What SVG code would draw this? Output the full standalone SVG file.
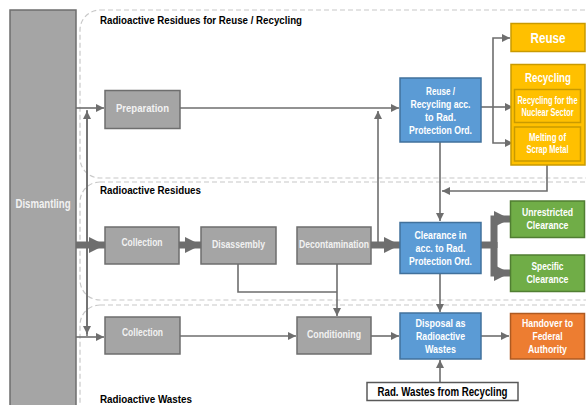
<svg xmlns="http://www.w3.org/2000/svg" width="586" height="405" viewBox="0 0 586 405">
<style>
text{font-family:"Liberation Sans",Arial,sans-serif;font-weight:bold;text-anchor:middle}
.g{fill:#a5a5a5;stroke:#6e6e6e;stroke-width:1.5}
.b{fill:#5b9bd5;stroke:#41719c;stroke-width:1.5}
.y{fill:#ffc000;stroke:#c99a00;stroke-width:1.5}
.gr{fill:#70ad47;stroke:#507e32;stroke-width:1.5}
.o{fill:#ed7d31;stroke:#ae5a21;stroke-width:1.5}
.w{fill:#fff;stroke:#595959;stroke-width:1.5}
.t{fill:#f2f2f2;font-size:11.5px}
.tw{fill:#fff;font-size:11.5px}
.ts{fill:#fff;font-size:10px}
.h{fill:#000;font-size:11.5px;text-anchor:start}
.reg{fill:none;stroke:#c8c8c8;stroke-width:1.2;stroke-dasharray:5 3}
.c{fill:none;stroke:#6e6e6e;stroke-width:1.6}
.k{fill:none;stroke:#6e6e6e;stroke-width:7}
</style>
<defs>
<marker id="a" viewBox="0 0 10 10" refX="10" refY="5" markerWidth="5" markerHeight="5" orient="auto" markerUnits="strokeWidth"><path d="M0,0L10,5L0,10z" fill="#6e6e6e"/></marker>
<marker id="ak" viewBox="0 0 10 10" refX="10" refY="5" markerWidth="2.3" markerHeight="2.3" orient="auto" markerUnits="strokeWidth"><path d="M0,0L10,5L0,10z" fill="#6e6e6e"/></marker>
</defs>
<rect x="0" y="0" width="586" height="405" fill="#fff"/>
<g id="regions">
<rect class="reg" x="80" y="10" width="530" height="168" rx="20"/>
<rect class="reg" x="80" y="182" width="530" height="118" rx="20"/>
<rect class="reg" x="80" y="305" width="530" height="130" rx="20"/>
<text class="h" x="100" y="24" textLength="202" lengthAdjust="spacingAndGlyphs">Radioactive Residues for Reuse / Recycling</text>
<text class="h" x="100" y="194" textLength="101" lengthAdjust="spacingAndGlyphs">Radioactive Residues</text>
<text class="h" x="100" y="403" textLength="92" lengthAdjust="spacingAndGlyphs">Radioactive Wastes</text>
</g>
<g id="connectors">
<path class="c" d="M76,108H104" marker-end="url(#a)"/>
<path class="c" d="M180,108H399" marker-end="url(#a)"/>
<path class="c" d="M87,336V111" marker-end="url(#a)"/>
<path class="c" d="M87,110V334" marker-end="url(#a)"/>
<path class="c" d="M76,337H104" marker-end="url(#a)"/>
<path class="k" d="M76,245H105" marker-end="url(#ak)"/>
<path class="k" d="M179,245H201" marker-end="url(#ak)"/>
<path class="k" d="M371,245H400" marker-end="url(#ak)"/>
<path class="c" d="M378,245V111" marker-end="url(#a)"/>
<path class="c" d="M440,142V221" marker-end="url(#a)"/>
<path class="c" d="M547,161V191H442" marker-end="url(#a)"/>
<path class="c" d="M481,107H513" marker-end="url(#a)"/>
<path class="c" d="M493,107V38H510" marker-end="url(#a)"/>
<path class="c" d="M493,107V143H513" marker-end="url(#a)"/>
<path class="k" d="M481,245H494"/>
<path class="k" d="M494,248V219H510" marker-end="url(#ak)"/>
<path class="k" d="M494,242V273H510" marker-end="url(#ak)"/>
<path class="c" d="M440,273V312" marker-end="url(#a)"/>
<path class="c" d="M238,264V292H337"/>
<path class="c" d="M337,264V316" marker-end="url(#a)"/>
<path class="c" d="M180,336H296" marker-end="url(#a)"/>
<path class="c" d="M371,336H399" marker-end="url(#a)"/>
<path class="c" d="M481,336H509" marker-end="url(#a)"/>
<path class="c" d="M440,382V360" marker-end="url(#a)"/>
</g>
<g id="dismantling"><rect class="g" x="10" y="10" width="66" height="400"/><text class="t" x="43" y="208" style="font-size:12px" textLength="55" lengthAdjust="spacingAndGlyphs">Dismantling</text></g>
<g id="preparation"><rect class="g" x="105" y="90.5" width="75" height="38"/><text class="t" x="142.5" y="112" textLength="53" lengthAdjust="spacingAndGlyphs">Preparation</text></g>
<g id="collection1"><rect class="g" x="105" y="227" width="74" height="37"/><text class="t" x="142" y="246" textLength="41" lengthAdjust="spacingAndGlyphs">Collection</text></g>
<g id="disassembly"><rect class="g" x="201" y="227" width="75" height="37"/><text class="t" x="238.5" y="248" textLength="53" lengthAdjust="spacingAndGlyphs">Disassembly</text></g>
<g id="decontamination"><rect class="g" x="297" y="227" width="74" height="37"/><text class="t" x="334" y="248" textLength="70" lengthAdjust="spacingAndGlyphs">Decontamination</text></g>
<g id="collection2"><rect class="g" x="105" y="317" width="75" height="37"/><text class="t" x="142.5" y="336" textLength="41" lengthAdjust="spacingAndGlyphs">Collection</text></g>
<g id="conditioning"><rect class="g" x="297" y="317" width="74" height="37"/><text class="t" x="334" y="338" textLength="54" lengthAdjust="spacingAndGlyphs">Conditioning</text></g>
<g id="reuse-recycling"><rect class="b" x="400" y="78" width="81" height="64"/>
<text class="tw" x="440.5" y="95" textLength="29" lengthAdjust="spacingAndGlyphs">Reuse /</text>
<text class="tw" x="440.5" y="108" textLength="60" lengthAdjust="spacingAndGlyphs">Recycling acc.</text>
<text class="tw" x="440.5" y="121" textLength="31" lengthAdjust="spacingAndGlyphs">to Rad.</text>
<text class="tw" x="440.5" y="134" textLength="63" lengthAdjust="spacingAndGlyphs">Protection Ord.</text></g>
<g id="clearance"><rect class="b" x="400" y="222.5" width="81" height="51"/>
<text class="tw" x="440.5" y="239" textLength="52" lengthAdjust="spacingAndGlyphs">Clearance in</text>
<text class="tw" x="440.5" y="252" textLength="50" lengthAdjust="spacingAndGlyphs">acc. to Rad.</text>
<text class="tw" x="440.5" y="265" textLength="63" lengthAdjust="spacingAndGlyphs">Protection Ord.</text></g>
<g id="disposal"><rect class="b" x="400" y="313" width="81" height="46"/>
<text class="tw" x="440.5" y="327" textLength="50" lengthAdjust="spacingAndGlyphs">Disposal as</text>
<text class="tw" x="440.5" y="340" textLength="49" lengthAdjust="spacingAndGlyphs">Radioactive</text>
<text class="tw" x="440.5" y="353" textLength="31" lengthAdjust="spacingAndGlyphs">Wastes</text></g>
<g id="reuse"><rect class="y" x="511" y="23.5" width="74" height="28"/><text class="tw" x="548" y="43" style="font-size:14px" textLength="35" lengthAdjust="spacingAndGlyphs">Reuse</text></g>
<g id="recycling"><rect class="y" x="511" y="64.5" width="74" height="100.5"/><text class="tw" x="548" y="82" style="font-size:13px" textLength="46" lengthAdjust="spacingAndGlyphs">Recycling</text>
<rect class="y" x="514.5" y="89.5" width="66" height="33"/>
<text class="ts" x="547.5" y="104" textLength="60" lengthAdjust="spacingAndGlyphs">Recycling for the</text>
<text class="ts" x="547.5" y="115.5" textLength="52" lengthAdjust="spacingAndGlyphs">Nuclear Sector</text>
<rect class="y" x="514.5" y="127" width="66" height="34"/>
<text class="ts" x="547.5" y="141" textLength="37" lengthAdjust="spacingAndGlyphs">Melting of</text>
<text class="ts" x="547.5" y="153" textLength="42" lengthAdjust="spacingAndGlyphs">Scrap Metal</text></g>
<g id="unrestricted"><rect class="gr" x="510.5" y="201" width="74" height="36.5"/>
<text class="tw" x="547.5" y="216" textLength="51" lengthAdjust="spacingAndGlyphs">Unrestricted</text>
<text class="tw" x="547.5" y="229" textLength="42" lengthAdjust="spacingAndGlyphs">Clearance</text></g>
<g id="specific"><rect class="gr" x="510.5" y="255" width="74" height="36.5"/>
<text class="tw" x="547.5" y="270" textLength="32" lengthAdjust="spacingAndGlyphs">Specific</text>
<text class="tw" x="547.5" y="283" textLength="42" lengthAdjust="spacingAndGlyphs">Clearance</text></g>
<g id="handover"><rect class="o" x="510.5" y="313.5" width="74" height="45.5"/>
<text class="tw" x="547.5" y="327" textLength="51" lengthAdjust="spacingAndGlyphs">Handover to</text>
<text class="tw" x="547.5" y="340" textLength="30" lengthAdjust="spacingAndGlyphs">Federal</text>
<text class="tw" x="547.5" y="353" textLength="39" lengthAdjust="spacingAndGlyphs">Authority</text></g>
<g id="rad-wastes"><rect class="w" x="367" y="382.5" width="151" height="18"/><text x="442.5" y="396" style="font-size:12px;fill:#000" textLength="130" lengthAdjust="spacingAndGlyphs">Rad. Wastes from Recycling</text></g>
</svg>
